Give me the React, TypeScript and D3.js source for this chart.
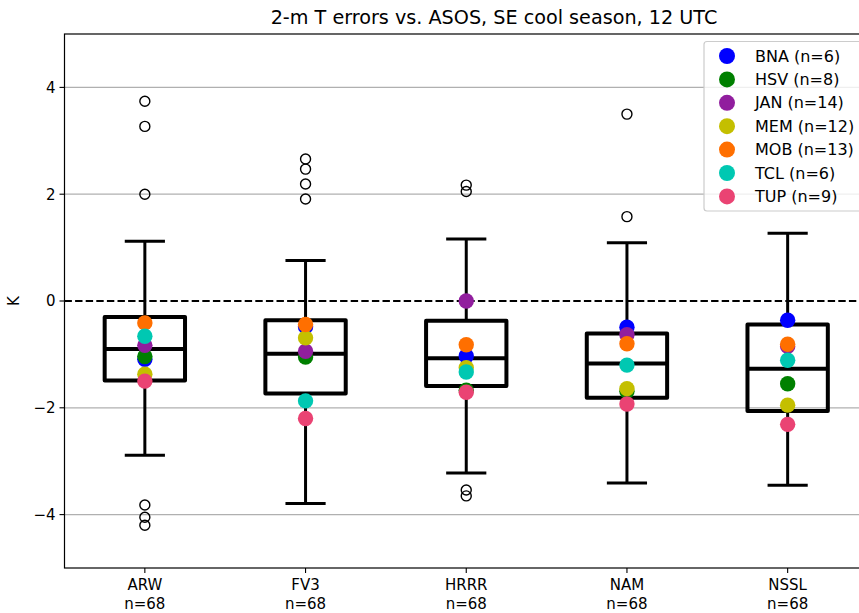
import React from "react";
import * as d3 from "d3";

// Forecast models and sample sizes
const models = ["ARW", "FV3", "HRRR", "NAM", "NSSL"];
const sampleCounts = [68, 68, 68, 68, 68];

// Box-plot statistics per model (K)
const whiskerLow = [-2.89, -3.79, -3.22, -3.41, -3.45];
const quartile1 = [-1.49, -1.73, -1.59, -1.81, -2.06];
const medians = [-0.9, -0.99, -1.07, -1.17, -1.27];
const quartile3 = [-0.3, -0.36, -0.37, -0.61, -0.44];
const whiskerHigh = [1.12, 0.76, 1.16, 1.09, 1.27];
const outliers = [
  [3.74, 3.27, 2.0, -3.82, -4.05, -4.2],
  [2.66, 2.47, 2.19, 1.91],
  [2.17, 2.05, -3.54, -3.65],
  [3.5, 1.58],
  [],
];

// Station mean errors per model (ARW, FV3, HRRR, NAM, NSSL)
const stations = ["BNA", "HSV", "JAN", "MEM", "MOB", "TCL", "TUP"];
const stationCounts = [6, 8, 14, 12, 13, 6, 9];
const stationColors = ["#0000ff", "#008000", "#911e9e", "#c4bf00", "#ff6f00", "#00c8b2", "#ea4373"];
const bnaValues = [-1.09, -0.48, -1.03, -0.49, -0.36];
const hsvValues = [-1.04, -1.05, -1.67, -1.69, -1.55];
const janValues = [-0.83, -0.94, 0.0, -0.63, -0.85];
const memValues = [-1.37, -0.69, -1.25, -1.64, -1.95];
const mobValues = [-0.41, -0.44, -0.82, -0.8, -0.81];
const tclValues = [-0.66, -1.87, -1.33, -1.2, -1.11];
const tupValues = [-1.5, -2.2, -1.71, -1.93, -2.31];
const stationValues = [bnaValues, hsvValues, janValues, memValues, mobValues, tclValues, tupValues];

const yTicks = [-4, -2, 0, 2, 4];

const W = 859;
const H = 613;
const FONT = "DejaVu Sans, sans-serif";

export default function App() {
  const plotLeft = 64.5;
  const plotRight = 868;
  const plotTop = 34;
  const plotBottom = 568;

  const x = d3.scaleLinear().domain([0.5, 5.5]).range([plotLeft, plotRight]);
  const y = d3.scaleLinear().domain([-5, 5]).range([plotBottom, plotTop]);

  const boxHalf = x(1.25) - x(1);
  const capHalf = boxHalf / 2;
  const fmt = (v: number) => (v < 0 ? "\u2212" + Math.abs(v) : String(v));

  return (
    <svg
      width={W}
      height={H}
      style={{ position: "absolute", left: 0, top: 0, display: "block", background: "#fff" }}
      fontFamily={FONT}
    >
      <text x={494} y={24} textAnchor="middle" fontSize={19.2} fill="#000">
        2-m T errors vs. ASOS, SE cool season, 12 UTC
      </text>

      {/* grid */}
      {yTicks.filter((t) => t !== 0).map((t) => (
        <line key={"g" + t} x1={plotLeft} x2={plotRight} y1={y(t)} y2={y(t)} stroke="#b0b0b0" strokeWidth={1.2} />
      ))}
      <line x1={plotLeft} x2={plotRight} y1={y(0)} y2={y(0)} stroke="#000" strokeWidth={2} strokeDasharray="7.4,3.2" />

      {/* y axis ticks */}
      {yTicks.map((t) => (
        <g key={"yt" + t}>
          <line x1={plotLeft - 5} x2={plotLeft} y1={y(t)} y2={y(t)} stroke="#000" strokeWidth={1.1} />
          <text x={plotLeft - 9} y={y(t) + 5.3} textAnchor="end" fontSize={15} fill="#000">
            {fmt(t)}
          </text>
        </g>
      ))}
      <text transform={`translate(19,${(plotTop + plotBottom) / 2}) rotate(-90)`} textAnchor="middle" fontSize={15}>
        K
      </text>

      {/* x axis ticks */}
      {models.map((m, i) => (
        <g key={"xt" + m}>
          <line x1={x(i + 1)} x2={x(i + 1)} y1={plotBottom} y2={plotBottom + 5} stroke="#000" strokeWidth={1.1} />
          <text x={x(i + 1)} y={plotBottom + 22} textAnchor="middle" fontSize={15}>
            {m}
          </text>
          <text x={x(i + 1)} y={plotBottom + 41} textAnchor="middle" fontSize={15}>
            {"n=" + sampleCounts[i]}
          </text>
        </g>
      ))}

      {/* boxes */}
      {models.map((m, i) => {
        const cx = x(i + 1);
        return (
          <g key={"b" + m}>
            <line x1={cx} x2={cx} y1={y(quartile3[i])} y2={y(whiskerHigh[i])} stroke="#000" strokeWidth={3} />
            <line x1={cx} x2={cx} y1={y(quartile1[i])} y2={y(whiskerLow[i])} stroke="#000" strokeWidth={3} />
            <line x1={cx - capHalf} x2={cx + capHalf} y1={y(whiskerHigh[i])} y2={y(whiskerHigh[i])} stroke="#000" strokeWidth={3} />
            <line x1={cx - capHalf} x2={cx + capHalf} y1={y(whiskerLow[i])} y2={y(whiskerLow[i])} stroke="#000" strokeWidth={3} />
            <rect
              x={cx - boxHalf}
              y={y(quartile3[i])}
              width={boxHalf * 2}
              height={y(quartile1[i]) - y(quartile3[i])}
              fill="none"
              stroke="#000"
              strokeWidth={4}
              strokeLinejoin="round"
            />
            <line x1={cx - boxHalf} x2={cx + boxHalf} y1={y(medians[i])} y2={y(medians[i])} stroke="#000" strokeWidth={4} />
            {outliers[i].map((v, k) => (
              <circle key={k} cx={cx} cy={y(v)} r={5} fill="none" stroke="#000" strokeWidth={1.4} />
            ))}
          </g>
        );
      })}

      {/* station dots */}
      {stations.map((s, si) => (
        <g key={"s" + s}>
          {stationValues[si].map((v, i) => (
            <circle key={i} cx={x(i + 1)} cy={y(v)} r={7.7} fill={stationColors[si]} />
          ))}
        </g>
      ))}

      {/* axes frame */}
      <rect x={plotLeft} y={plotTop} width={plotRight - plotLeft} height={plotBottom - plotTop} fill="none" stroke="#000" strokeWidth={1.2} />

      {/* legend */}
      <g>
        <rect x={704} y={41.5} width={170} height={169.5} rx={3} fill="#fff" fillOpacity={0.8} stroke="#cccccc" strokeWidth={1.2} />
        {stations.map((s, si) => {
          const ry = 56 + si * 23.4;
          return (
            <g key={"l" + s}>
              <circle cx={727} cy={ry} r={8} fill={stationColors[si]} />
              <text x={755} y={ry + 5.6} fontSize={16}>
                {`${s} (n=${stationCounts[si]})`}
              </text>
            </g>
          );
        })}
      </g>
    </svg>
  );
}
